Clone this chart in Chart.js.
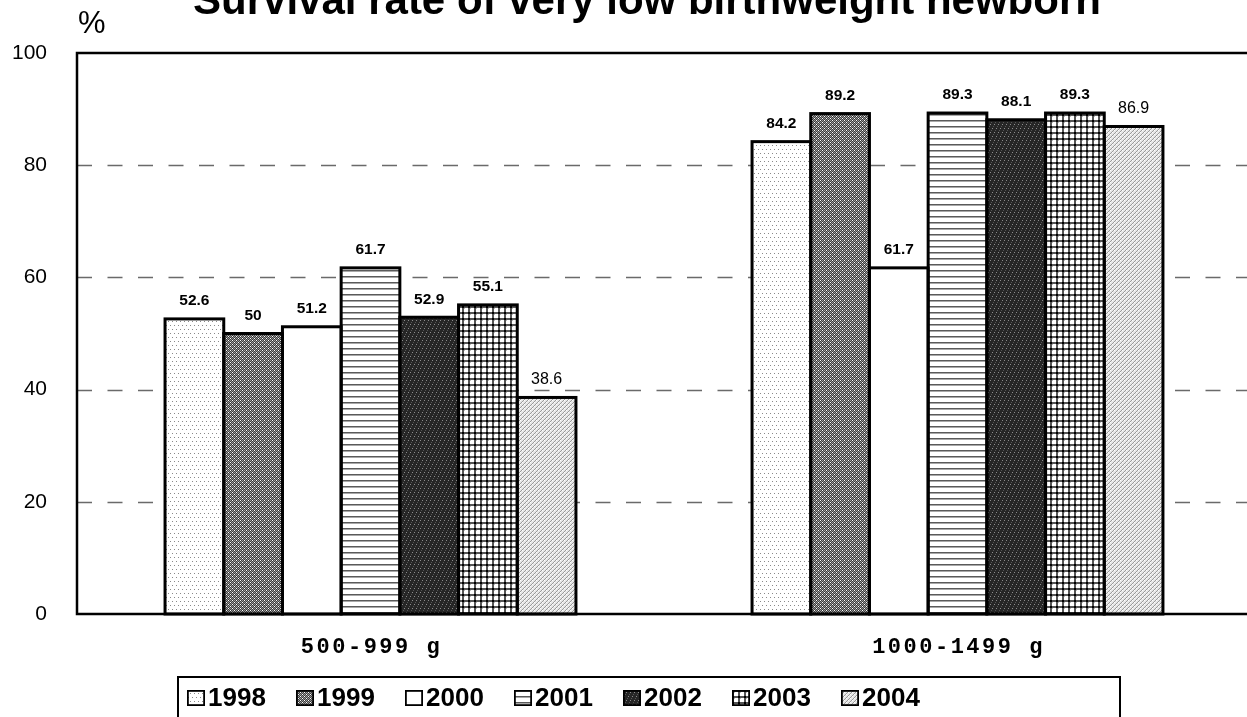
<!DOCTYPE html>
<html><head><meta charset="utf-8">
<script src="https://cdn.jsdelivr.net/npm/chart.js@4.4.1/dist/chart.umd.min.js"></script>
<style>html,body{margin:0;padding:0;background:#fff;overflow:hidden}#wrap{position:absolute;left:0;top:0;width:1256px;height:717px}</style>
</head><body><div id="wrap"><canvas id="c"></canvas></div>
<script>
const categories = ['500-999 g', '1000-1499 g'];
const years = ['1998', '1999', '2000', '2001', '2002', '2003', '2004'];
const v1998 = [52.6, 84.2];
const v1999 = [50, 89.2];
const v2000 = [51.2, 61.7];
const v2001 = [61.7, 89.3];
const v2002 = [52.9, 88.1];
const v2003 = [55.1, 89.3];
const v2004 = [38.6, 86.9];
const yTicks = [0, 20, 40, 60, 80, 100];
const titleText = 'Survival rate of very low birthweight newborn';
const unitText = '%';

const seriesValues = [v1998, v1999, v2000, v2001, v2002, v2003, v2004];
const patternKinds = ['dots', 'dense', 'white', 'hlines', 'dark', 'plaid', 'diag'];
const labelBold = [true, true, true, true, true, true, false];

function makePattern(kind) {
  const c = document.createElement('canvas');
  const s = 8; c.width = s; c.height = s;
  const g = c.getContext('2d');
  const px = (x, y, col) => { g.fillStyle = col; g.fillRect(x, y, 1, 1); };
  if (kind === 'white') { g.fillStyle = '#fff'; g.fillRect(0, 0, s, s); }
  else if (kind === 'dots') {
    g.fillStyle = '#fff'; g.fillRect(0, 0, s, s);
    for (let y = 0; y < s; y += 4) for (let x = 0; x < s; x += 4) px(x + ((y / 4) % 2 ? 2 : 0), y + 1, '#8a8a8a');
  } else if (kind === 'dense') {
    for (let y = 0; y < s; y++) for (let x = 0; x < s; x++) px(x, y, (x + y) % 2 ? '#3c3c3c' : '#9a9a9a');
    for (let y = 0; y < s; y += 4) for (let x = 0; x < s; x += 4) { px(x + 2, y + 2, '#ffffff'); px(x, y, '#ffffff'); }
  } else if (kind === 'hlines') {
    c.height = 6; g.fillStyle = '#fff'; g.fillRect(0, 0, s, 6);
    g.fillStyle = '#5a5a5a'; g.fillRect(0, 0, s, 1);
    g.fillStyle = '#a8a8a8'; g.fillRect(0, 1, s, 1);
  } else if (kind === 'dark') {
    g.fillStyle = '#262626'; g.fillRect(0, 0, s, s);
    for (let y = 0; y < s; y += 4) for (let x = 0; x < s; x += 4) { px(x + ((y / 4) % 2 ? 2 : 0), y, '#8c8c8c'); px(x + ((y / 4) % 2 ? 0 : 2) + 1, y + 2, '#555'); }
  } else if (kind === 'plaid') {
    c.width = 6; c.height = 6;
    g.fillStyle = '#fff'; g.fillRect(0, 0, 6, 6);
    g.fillStyle = '#555'; g.fillRect(0, 0, 2, 6); g.fillRect(0, 0, 6, 2);
    g.fillStyle = '#000'; g.fillRect(0, 0, 2, 2);
    g.fillStyle = '#bbb'; g.fillRect(2, 2, 1, 1);
  } else if (kind === 'diag') {
    c.width = 4; c.height = 4;
    g.fillStyle = '#e6e6e6'; g.fillRect(0, 0, 4, 4);
    for (let i = 0; i < 4; i++) { g.fillStyle = '#9a9a9a'; g.fillRect(i, 3 - i, 1, 1); }
    g.fillStyle = '#fff'; g.fillRect(0, 0, 1, 1); g.fillRect(2, 2, 1, 1);
  }
  return g.createPattern(c, 'repeat');
}

const patterns = patternKinds.map(makePattern);

const datasets = years.map((y, i) => ({
  label: y,
  data: seriesValues[i],
  backgroundColor: patterns[i],
  borderWidth: 0
}));

const FONT = '"Liberation Sans", Arial, sans-serif';

const decor = {
  id: 'decor',
  beforeDatasetsDraw(chart) {
    const { ctx, chartArea: a, scales: { y } } = chart;
    ctx.save();
    ctx.strokeStyle = '#6a6a6a';
    ctx.lineWidth = 1.6;
    ctx.setLineDash([15, 15.5]);
    yTicks.forEach(v => {
      if (v === 0 || v === 100) return;
      const py = Math.round(y.getPixelForValue(v)) + 0.5;
      ctx.beginPath(); ctx.moveTo(a.left, py); ctx.lineTo(a.right, py); ctx.stroke();
    });
    ctx.restore();
  },
  afterDatasetsDraw(chart) {
    const { ctx, chartArea: a, scales: { x, y } } = chart;
    ctx.save();
    // bar outlines (shared edges overlap)
    ctx.strokeStyle = '#000';
    ctx.lineWidth = 3;
    chart.data.datasets.forEach((ds, di) => {
      chart.getDatasetMeta(di).data.forEach(bar => {
        const l = bar.x - bar.width / 2;
        ctx.strokeRect(l, bar.y, bar.width, bar.base - bar.y);
      });
    });
    // axes frame
    ctx.lineWidth = 2.5;
    ctx.beginPath();
    ctx.moveTo(a.right + 5, a.top); ctx.lineTo(a.left, a.top); ctx.lineTo(a.left, a.bottom); ctx.lineTo(a.right + 5, a.bottom);
    ctx.stroke();
    // data labels
    ctx.fillStyle = '#000';
    ctx.textAlign = 'center';
    ctx.textBaseline = 'middle';
    chart.data.datasets.forEach((ds, di) => {
      const meta = chart.getDatasetMeta(di);
      ctx.font = (labelBold[di] ? 'bold 15.5px ' : '16px ') + FONT;
      meta.data.forEach((bar, i) => {
        ctx.fillText(String(ds.data[i]), bar.x, bar.y - 18);
      });
    });
    // x category labels
    ctx.font = 'bold 22px "Liberation Mono", "DejaVu Sans Mono", monospace';
    ctx.letterSpacing = '2.5px';
    ctx.textBaseline = 'middle';
    categories.forEach((c, i) => {
      ctx.fillText(c, x.getPixelForTick(i) + 1, 647);
    });
    ctx.letterSpacing = '0px';
    // title
    ctx.font = 'bold 42px ' + FONT;
    ctx.textBaseline = 'alphabetic';
    ctx.fillText(titleText, 647, 14);
    // unit
    ctx.font = '31px ' + FONT;
    ctx.textAlign = 'left';
    ctx.fillText(unitText, 78, 33);
    // legend
    ctx.lineWidth = 2;
    ctx.strokeRect(178, 677, 942, 60);
    ctx.font = 'bold 26px ' + FONT;
    ctx.textBaseline = 'middle';
    let lx = 187;
    const ly = 698;
    const pitch = 109;
    chart.data.datasets.forEach((ds, di) => {
      ctx.fillStyle = patterns[di];
      ctx.fillRect(lx, ly - 8, 18, 16);
      ctx.lineWidth = 1.8;
      ctx.strokeStyle = '#000';
      ctx.strokeRect(lx + 0.9, ly - 7.1, 16.2, 14.2);
      ctx.fillStyle = '#000';
      ctx.fillText(ds.label, lx + 21, ly + 1);
      lx += pitch;
    });
    ctx.restore();
  }
};

new Chart(document.getElementById('c'), {
  type: 'bar',
  data: { labels: categories, datasets },
  options: {
    responsive: true,
    maintainAspectRatio: false,
    animation: false,
    devicePixelRatio: 1,
    layout: { padding: { top: 53, right: 5, left: 0, bottom: 0 } },
    datasets: { bar: { categoryPercentage: 0.7, barPercentage: 1.0 } },
    plugins: { legend: { display: false }, title: { display: false }, tooltip: { enabled: false } },
    scales: {
      x: {
        grid: { display: false, drawTicks: false },
        border: { display: false },
        ticks: { display: false },
        afterFit(s) { s.height = 103; }
      },
      y: {
        min: 0, max: 100,
        afterBuildTicks(s) { s.ticks = yTicks.map(v => ({ value: v })); },
        grid: { display: false, drawTicks: false },
        border: { display: false },
        ticks: { color: '#000', padding: 30, font: { family: FONT, size: 21 } },
        afterFit(s) { s.width = 77; }
      }
    }
  },
  plugins: [decor]
});
</script>
</body></html>
